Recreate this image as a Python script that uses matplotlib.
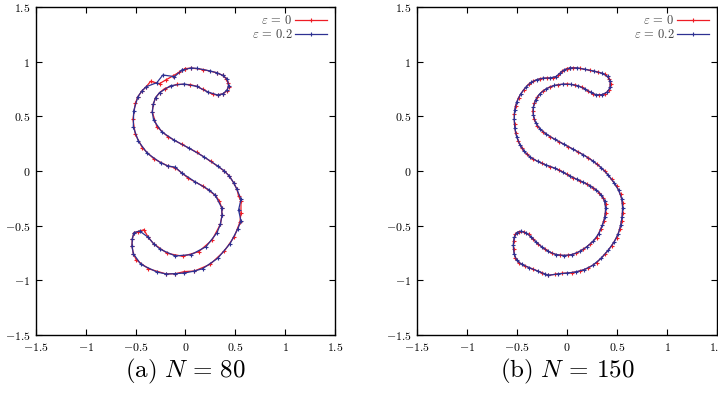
import numpy as np
import matplotlib as mpl
mpl.rcParams['mathtext.fontset'] = 'cm'
mpl.rcParams['mathtext.rm'] = 'serif'
import matplotlib.pyplot as plt

# S-shaped contour, vertices (x, y)
# (a) N = 80
s80_eps0 = [
    (-0.003, 0.936), (0.057, 0.942), (0.180, 0.927), (0.313, 0.899), (0.373, 0.875),
    (0.407, 0.845), (0.427, 0.808), (0.433, 0.771), (0.413, 0.732), (0.380, 0.707),
    (0.323, 0.695), (0.273, 0.701), (0.173, 0.747), (0.113, 0.774), (0.050, 0.790),
    (-0.083, 0.793), (-0.210, 0.753), (-0.260, 0.716), (-0.300, 0.671), (-0.323, 0.610),
    (-0.333, 0.540), (-0.287, 0.405), (-0.177, 0.314), (-0.037, 0.244), (0.113, 0.171),
    (0.253, 0.088), (0.390, 0.000), (0.440, -0.046), (0.483, -0.107), (0.517, -0.168),
    (0.533, -0.229), (0.557, -0.274), (0.557, -0.381), (0.547, -0.466), (0.490, -0.601),
    (0.390, -0.732), (0.247, -0.854), (0.090, -0.915), (-0.010, -0.920), (-0.100, -0.939),
    (-0.193, -0.942), (-0.373, -0.893), (-0.493, -0.814), (-0.523, -0.756), (-0.537, -0.686),
    (-0.533, -0.619), (-0.517, -0.564), (-0.477, -0.555), (-0.417, -0.537), (-0.373, -0.607),
    (-0.320, -0.665), (-0.183, -0.753), (-0.027, -0.780), (0.133, -0.738), (0.267, -0.631),
    (0.350, -0.488), (0.367, -0.405), (0.363, -0.335), (0.340, -0.274), (0.300, -0.223),
    (0.173, -0.137), (0.030, -0.067), (-0.033, -0.021), (-0.103, 0.030), (-0.177, 0.046),
    (-0.320, 0.113), (-0.433, 0.213), (-0.503, 0.335), (-0.527, 0.473), (-0.503, 0.619),
    (-0.477, 0.680), (-0.437, 0.732), (-0.393, 0.771), (-0.350, 0.820), (-0.260, 0.799),
    (-0.193, 0.835), (-0.127, 0.869), (-0.060, 0.905),
]
s80_eps02 = [
    (-0.033, 0.924), (0.057, 0.942), (0.113, 0.939), (0.247, 0.915), (0.313, 0.899),
    (0.373, 0.875), (0.420, 0.840), (0.433, 0.780), (0.420, 0.745), (0.380, 0.707),
    (0.323, 0.695), (0.223, 0.723), (0.113, 0.774), (-0.017, 0.796), (-0.150, 0.780),
    (-0.260, 0.716), (-0.300, 0.671), (-0.323, 0.610), (-0.333, 0.540), (-0.320, 0.466),
    (-0.237, 0.357), (-0.110, 0.280), (0.040, 0.207), (0.183, 0.131), (0.323, 0.046),
    (0.390, 0.000), (0.440, -0.046), (0.483, -0.107), (0.517, -0.168), (0.557, -0.259),
    (0.533, -0.357), (0.557, -0.457), (0.523, -0.534), (0.447, -0.665), (0.323, -0.799),
    (0.173, -0.893), (0.090, -0.915), (-0.010, -0.933), (-0.100, -0.939), (-0.193, -0.942),
    (-0.287, -0.924), (-0.447, -0.854), (-0.523, -0.756), (-0.537, -0.686), (-0.533, -0.619),
    (-0.517, -0.564), (-0.460, -0.549), (-0.373, -0.607), (-0.320, -0.665), (-0.253, -0.716),
    (-0.103, -0.777), (0.057, -0.765), (0.207, -0.692), (0.317, -0.564), (0.350, -0.488),
    (0.367, -0.405), (0.363, -0.335), (0.300, -0.223), (0.240, -0.174), (0.100, -0.101),
    (-0.033, -0.021), (-0.103, 0.035), (-0.177, 0.046), (-0.250, 0.076), (-0.383, 0.162),
    (-0.473, 0.274), (-0.523, 0.402), (-0.520, 0.549), (-0.477, 0.680), (-0.437, 0.732),
    (-0.393, 0.771), (-0.287, 0.808), (-0.227, 0.878), (-0.110, 0.863),
]

# (b) N = 150
s150_eps0 = [
    (-0.003, 0.936), (0.063, 0.945), (0.130, 0.939), (0.229, 0.921), (0.312, 0.905),
    (0.379, 0.884), (0.422, 0.845), (0.435, 0.793), (0.422, 0.741), (0.379, 0.707),
    (0.322, 0.692), (0.262, 0.704), (0.213, 0.732), (0.146, 0.768), (0.080, 0.787),
    (-0.003, 0.796), (-0.086, 0.790), (-0.169, 0.771), (-0.243, 0.732), (-0.296, 0.680),
    (-0.329, 0.619), (-0.342, 0.549), (-0.329, 0.473), (-0.296, 0.412), (-0.243, 0.360),
    (-0.169, 0.314), (-0.080, 0.268), (0.013, 0.223), (0.113, 0.174), (0.213, 0.122),
    (0.302, 0.061), (0.379, 0.000), (0.445, -0.076), (0.495, -0.137), (0.535, -0.213),
    (0.555, -0.290), (0.555, -0.381), (0.545, -0.457), (0.528, -0.534), (0.495, -0.610),
    (0.445, -0.686), (0.379, -0.762), (0.296, -0.838), (0.213, -0.887), (0.130, -0.915),
    (0.047, -0.930), (-0.053, -0.936), (-0.120, -0.945), (-0.186, -0.954), (-0.252, -0.930),
    (-0.336, -0.899), (-0.419, -0.869), (-0.485, -0.838), (-0.518, -0.793), (-0.535, -0.716),
    (-0.535, -0.640), (-0.518, -0.579), (-0.485, -0.555), (-0.435, -0.555), (-0.385, -0.579),
    (-0.336, -0.625), (-0.286, -0.671), (-0.219, -0.716), (-0.153, -0.753), (-0.070, -0.771),
    (0.013, -0.771), (0.090, -0.753), (0.163, -0.716), (0.229, -0.671), (0.296, -0.610),
    (0.336, -0.534), (0.369, -0.457), (0.385, -0.381), (0.385, -0.305), (0.362, -0.244),
    (0.322, -0.198), (0.262, -0.152), (0.196, -0.116), (0.130, -0.091), (0.063, -0.061),
    (-0.003, -0.030), (-0.076, 0.009), (-0.169, 0.040), (-0.252, 0.070), (-0.336, 0.107),
    (-0.402, 0.152), (-0.452, 0.207), (-0.488, 0.274), (-0.515, 0.351), (-0.525, 0.427),
    (-0.528, 0.518), (-0.515, 0.595), (-0.485, 0.671), (-0.435, 0.741), (-0.385, 0.793),
    (-0.336, 0.823), (-0.269, 0.845), (-0.203, 0.851), (-0.136, 0.851), (-0.086, 0.875),
    (-0.053, 0.912),
]
s150_eps02 = [
    (0.030, 0.942), (0.097, 0.943), (0.180, 0.930), (0.270, 0.913), (0.346, 0.895),
    (0.405, 0.866), (0.432, 0.820), (0.432, 0.766), (0.403, 0.722), (0.350, 0.698),
    (0.292, 0.697), (0.238, 0.718), (0.180, 0.750), (0.113, 0.778), (0.038, 0.792),
    (-0.045, 0.794), (-0.128, 0.782), (-0.207, 0.753), (-0.271, 0.707), (-0.314, 0.650),
    (-0.337, 0.584), (-0.337, 0.511), (-0.314, 0.442), (-0.271, 0.385), (-0.207, 0.337),
    (-0.125, 0.291), (-0.034, 0.246), (0.063, 0.198), (0.163, 0.148), (0.258, 0.092),
    (0.342, 0.031), (0.413, -0.038), (0.471, -0.107), (0.516, -0.175), (0.547, -0.252),
    (0.557, -0.336), (0.551, -0.420), (0.537, -0.496), (0.513, -0.572), (0.472, -0.648),
    (0.413, -0.724), (0.339, -0.800), (0.255, -0.864), (0.172, -0.902), (0.088, -0.923),
    (-0.003, -0.934), (-0.087, -0.941), (-0.186, -0.954), (-0.220, -0.943), (-0.294, -0.915),
    (-0.378, -0.884), (-0.453, -0.854), (-0.503, -0.816), (-0.530, -0.755), (-0.537, -0.678),
    (-0.528, -0.607), (-0.503, -0.563), (-0.460, -0.550), (-0.410, -0.565), (-0.360, -0.602),
    (-0.311, -0.648), (-0.253, -0.694), (-0.186, -0.736), (-0.112, -0.764), (-0.028, -0.773),
    (0.052, -0.764), (0.127, -0.736), (0.197, -0.694), (0.263, -0.641), (0.318, -0.572),
    (0.354, -0.496), (0.379, -0.420), (0.387, -0.343), (0.375, -0.272), (0.344, -0.220),
    (0.293, -0.174), (0.229, -0.134), (0.163, -0.103), (0.097, -0.076), (0.030, -0.046),
    (-0.040, -0.012), (-0.122, 0.026), (-0.210, 0.055), (-0.294, 0.088), (-0.370, 0.128),
    (-0.428, 0.180), (-0.471, 0.240), (-0.503, 0.312), (-0.521, 0.389), (-0.528, 0.472),
    (-0.523, 0.557), (-0.502, 0.633), (-0.462, 0.707), (-0.410, 0.768), (-0.360, 0.810),
    (-0.302, 0.836), (-0.236, 0.849), (-0.170, 0.851), (-0.110, 0.864), (-0.070, 0.895),
    (-0.028, 0.925),
]

ticks = [-1.5, -1, -0.5, 0, 0.5, 1, 1.5]
tick_labels = [r'$-1.5$', r'$-1$', r'$-0.5$', r'$0$', r'$0.5$', r'$1$', r'$1.5$']
captions = [r'$\mathrm{(a)}\ N\,=\,80$', r'$\mathrm{(b)}\ N\,=\,150$']
legend_labels = [r'$\varepsilon\,=\,0$', r'$\varepsilon\,=\,0.2$']

color_r = '#ee1c25'
color_b = '#2e3192'


def closed(pts):
    a = np.array(pts)
    return np.vstack([a, a[:1]])


if __name__ == '__main__':

    fig = plt.figure(figsize=(7.18, 3.99), dpi=100)
    ax_a = fig.add_axes([0.0501, 0.1604, 0.4164, 0.8221])
    ax_b = fig.add_axes([0.5808, 0.1604, 0.4178, 0.8221])

    panels = [(ax_a, s80_eps0, s80_eps02), (ax_b, s150_eps0, s150_eps02)]
    for i, (ax, red, blue) in enumerate(panels):
        r = closed(red)
        b = closed(blue)
        lr, = ax.plot(r[:, 0], r[:, 1], color=color_r, lw=0.9, marker='+', ms=2.2, mew=0.8)
        lb, = ax.plot(b[:, 0], b[:, 1], color=color_b, lw=0.9, marker='+', ms=2.2, mew=0.8)

        ax.set_xlim(-1.5, 1.5)
        ax.set_ylim(-1.5, 1.5)
        ax.set_xticks(ticks)
        ax.set_xticklabels(tick_labels, fontsize=8.5)
        ax.set_yticks(ticks)
        ax.set_yticklabels(tick_labels, fontsize=8.5)
        ax.tick_params(direction='in', top=True, right=True, length=4, width=0.8, pad=4)
        for sp in ax.spines.values():
            sp.set_linewidth(1.0)

        ax.legend(
            [lr, lb], legend_labels, loc='upper right', frameon=False,
            markerfirst=False, handlelength=2.6, handletextpad=0.2,
            labelspacing=0.05, fontsize=9, borderaxespad=0.2, labelcolor='#444444')

        bb = ax.get_position()
        fig.text((bb.x0 + bb.x1) / 2, 0.07, captions[i], ha='center', va='center', fontsize=18)

    fig.savefig('out.png', dpi=100)
    plt.close()
